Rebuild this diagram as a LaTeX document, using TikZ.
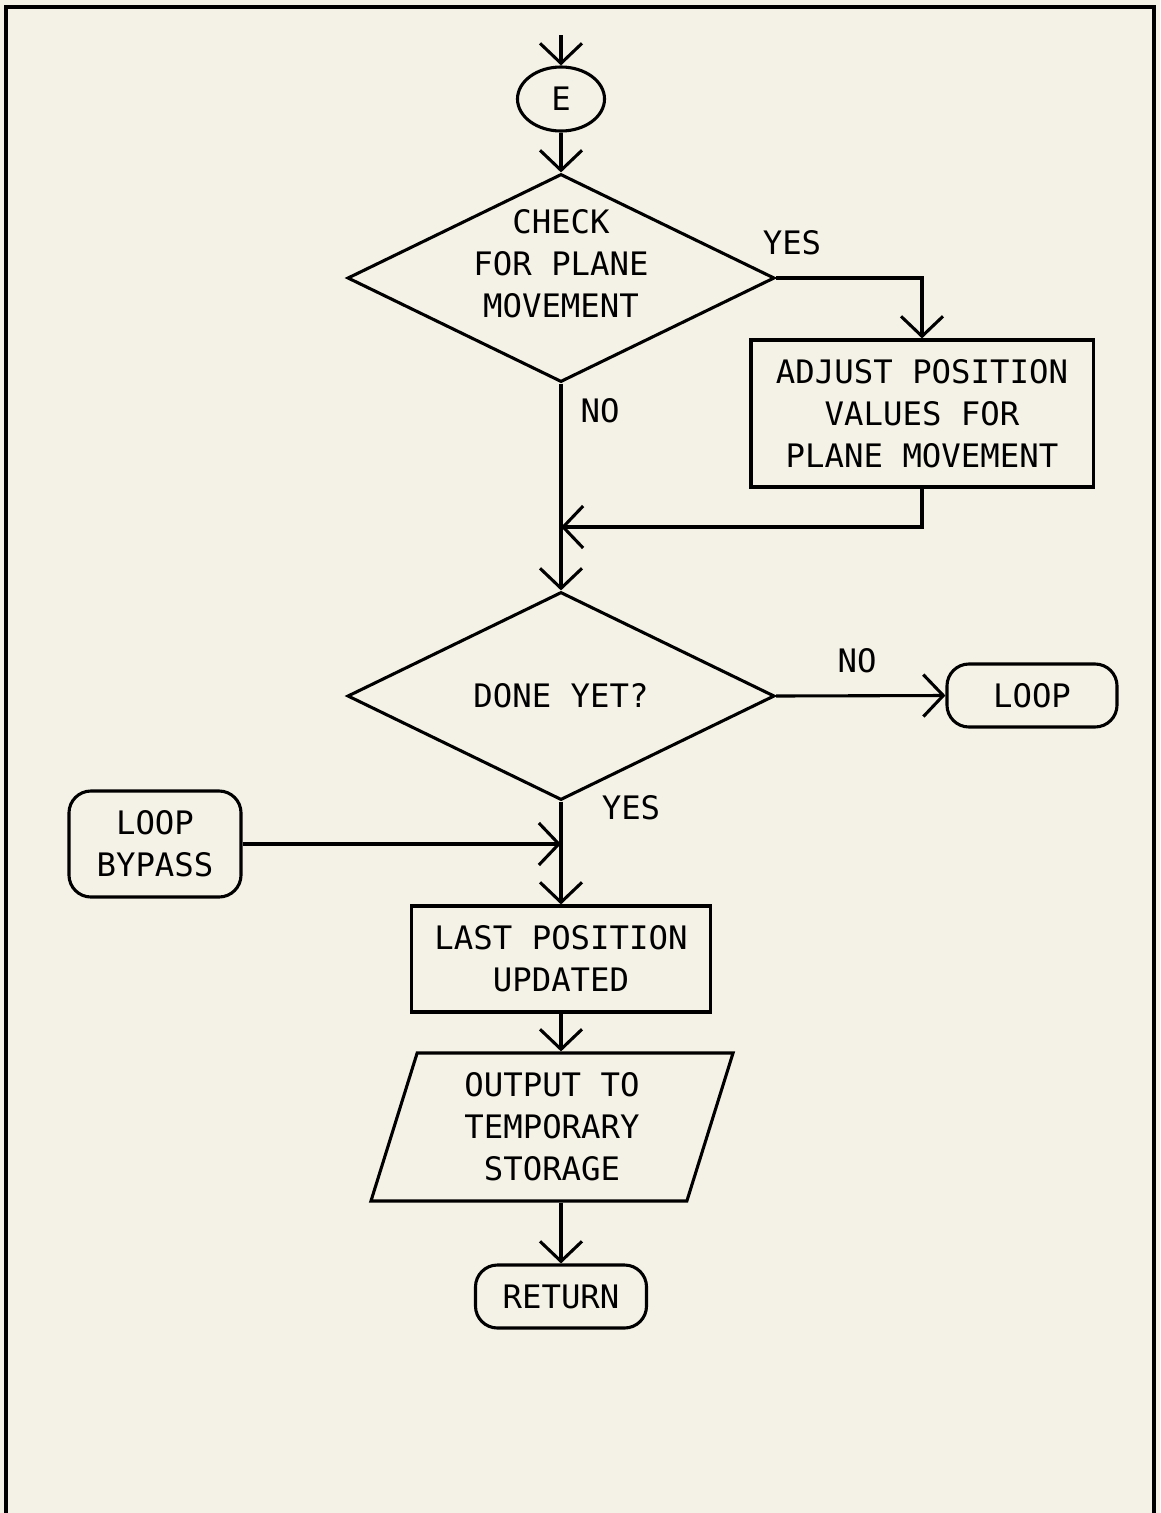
\documentclass[tikz,border=0pt]{standalone}
\usepackage{fontspec}
\newfontfamily\plotfont{DejaVu Sans Mono}
\usetikzlibrary{shapes.geometric,arrows.meta}
\definecolor{paper}{RGB}{244,242,230}
\tikzset{
  every node/.style={font=\plotfont\fontsize{23}{30}\selectfont, align=center},
  pen/.style={line width=2.2pt},
  flow/.style={draw, pen, -{Straight Barb[length=0.5cm,width=1.05cm]}},
  box/.style={draw, pen, rectangle, inner sep=0},
  term/.style={box, rounded corners=0.55cm},
  decision/.style={draw, pen, diamond, aspect=2.05, inner sep=0,
    minimum width=10.675cm, minimum height=5.2cm},
  io/.style={draw, pen, trapezium, trapezium left angle=67,
    trapezium right angle=113, trapezium stretches body, inner sep=0,
    minimum width=9.05cm, minimum height=3.7cm}
}

\begin{document}
\begin{tikzpicture}[x=0.025cm, y=-0.025cm]
  \useasboundingbox[fill=paper] (0,0) rectangle (1160,1513);
  \draw[line width=3.2pt] (6,1513) -- (6,7) -- (1154,7) -- (1154,1513);

  % entry connector
  \coordinate (in) at (561,35);
  \node[draw, pen, ellipse, inner sep=0, minimum width=2.175cm,
    minimum height=1.6cm] (E) at (561,99) {E};

  % plane movement test
  \node[decision, label={[name=chktext, yshift=0.35cm]center:CHECK\\FOR PLANE\\MOVEMENT}]
    (chk) at (561,278) {};
  \node[box, minimum width=8.55cm, minimum height=3.675cm] (adj) at (922,413.5)
    {ADJUST POSITION\\VALUES FOR\\PLANE MOVEMENT};
  \coordinate (join) at (561,527);

  % end of loop test
  \node[decision] (done) at (561,696) {DONE YET?};
  \node[term, minimum width=4.25cm, minimum height=1.575cm] (loop) at (1032,695.5) {LOOP};
  \node[term, minimum width=4.3cm, minimum height=2.65cm] (bypass) at (155,844) {LOOP\\BYPASS};

  % wrap up
  \node[box, minimum width=7.475cm, minimum height=2.65cm] (last) at (561,959)
    {LAST POSITION\\UPDATED};
  \node[io] (out) at (552,1127) {OUTPUT TO\\TEMPORARY\\STORAGE};
  \node[term, minimum width=4.275cm, minimum height=1.575cm] (ret) at (561,1296.5) {RETURN};

  % branch labels
  \node (yes1) at (792,243) {YES};
  \node (no1) at (600,411) {NO};
  \node (no2) at (857,661) {NO};
  \node (yes2) at (631,808) {YES};

  % connectors
  \draw[flow] (in) -- (E);
  \draw[flow] (E) -- (chk);
  \draw[flow] (chk.east) -| (adj.north);
  \draw[flow] (adj.south) |- (join);
  \draw[flow] (chk.south) -- (done.north);
  \draw[flow] (done.east) -- (loop.west);
  \draw[flow] (bypass.east) -- (bypass.east -| done.south);
  \draw[flow] (done.south) -- (last.north);
  \draw[flow] (last.south) -- (last.south |- out.north);
  \draw[flow] (out.south -| ret.north) -- (ret.north);
\end{tikzpicture}
\end{document}
